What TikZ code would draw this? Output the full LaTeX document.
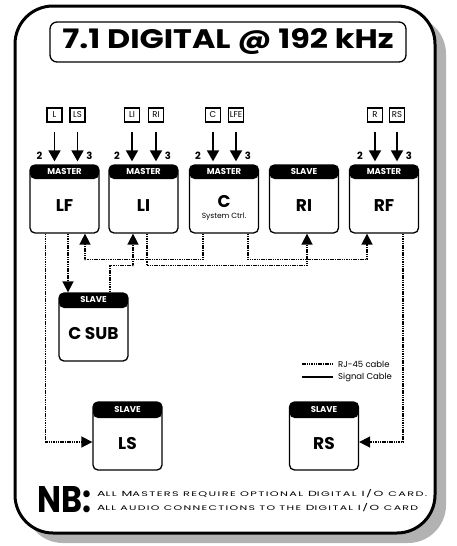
\documentclass[tikz,border=0pt]{standalone}
\usepackage{fontspec}
\setmainfont{Poppins}
\usetikzlibrary{arrows.meta,calc}
\tikzset{
  unitbox/.style={draw, line width=1.3pt, rounded corners=5pt, minimum width=69pt,
    minimum height=68pt, inner sep=0pt,
    path picture={\fill (path picture bounding box.north west) rectangle
      ([yshift=-#1]path picture bounding box.north east);}},
  unitbox/.default=14pt,
  hdr/.style={text=white, font=\fontsize{8.5}{8.5}\selectfont\bfseries, inner sep=0pt},
  body/.style={font=\fontsize{17}{17}\selectfont\bfseries, inner sep=0pt},
  inlab/.style={draw, line width=1.1pt, font=\fontsize{8.5}{8.5}\selectfont, inner sep=1.3pt,
    minimum height=14pt, minimum width=15pt},
  inarr/.style={line width=1.8pt, -{Triangle[width=12pt,length=11pt]},
    shorten <=9pt, shorten >=3pt},
  num/.style={font=\fontsize{10}{10}\selectfont\bfseries, inner sep=0pt},
  rj/.style={line width=1.6pt, dash pattern=on 1.5pt off 0.8pt,
    -{Triangle[width=11pt,length=11pt]}},
  legtxt/.style={font=\fontsize{8.5}{8.5}\selectfont, inner sep=0pt, anchor=west},
}
\newcommand\mkunit[6]{% name, x, y, header, body, header height
  \node[unitbox=#6] (#1) at (#2,#3) {};
  \node[hdr] (#1h) at ([yshift=-#6/2]#1.north) {#4};
  \node[body] (#1t) at ([yshift=-#6/2+0.5pt]#1.center) {#5};
}
\newcommand\mkinputs[5]{% unit, ax, bx, labA, labB
  \node[inlab] (#1a) at (#2,115) {#4};
  \node[inlab] (#1b) at (#3,115) {#5};
  \draw[inarr] (#1a.south) -- (#1a.south |- #1.north);
  \draw[inarr] (#1b.south) -- (#1b.south |- #1.north);
  \node[num] (#1n2) at (#2-15,156) {2};
  \node[num] (#1n3) at (#3+12,156) {3};
}
\begin{document}
\begin{tikzpicture}[x=1pt,y=-1pt]
\useasboundingbox (0,0) rectangle (456,546);
% frame with shadow
\fill[gray!60, rounded corners=38pt] (25,16) rectangle (446,543);
\draw[line width=3pt, fill=white, rounded corners=38pt] (15,6) rectangle (435,533);
% title
\node[draw, line width=1.3pt, rounded corners=7pt, minimum width=356pt, minimum height=40pt, inner sep=0pt]
  (title) at (228,42) {\resizebox{331pt}{20pt}{\bfseries 7.1 DIGITAL @ 192 kHz}};
% units
\mkunit{LF}{64.5}{199}{MASTER}{LF}{14pt}
\mkunit{LI}{143.5}{199}{MASTER}{LI}{14pt}
\node[unitbox=14pt] (C) at (224,199) {};
\node[hdr] (Ch) at ([yshift=-7pt]C.north) {MASTER};
\node[body] (Ct) at (224,202) {C};
\node[font=\fontsize{7.5}{7.5}\selectfont, inner sep=0pt] (Cs) at (224,217) {System Ctrl.};
\mkunit{RI}{304}{199}{SLAVE}{RI}{14pt}
\mkunit{RF}{384}{199}{MASTER}{RF}{14pt}
\mkunit{CSUB}{93.5}{327}{SLAVE}{C SUB}{15pt}
\mkunit{LS}{127.5}{436}{SLAVE}{LS}{16pt}
\mkunit{RS}{324}{436}{SLAVE}{RS}{16pt}
% inputs
\mkinputs{LF}{54.5}{77.5}{L}{LS}
\mkinputs{LI}{132}{156}{LI}{RI}
\mkinputs{C}{213}{236}{C}{LFE}
\mkinputs{RF}{375}{397}{R}{RS}
% RJ-45 connections
\coordinate (lfa) at ($(LF.south west)+(16,0)$);
\draw[rj] (lfa) |- ([yshift=-6pt]LS.west);
\coordinate (lfb) at ($(LF.south)+(3.5,0)$);
\draw[rj] (lfb) -- (lfb |- CSUB.north);
\coordinate (ca) at ($(C.south)+(-21,0)$);
\coordinate (lfc) at ($(LF.south)+(20.5,0)$);
\draw[rj] (ca) -- ++(0,26) -| (lfc);
\coordinate (cs) at ($(CSUB.north)+(16.5,0)$);
\coordinate (lib) at ($(LI.south)+(-10.5,0)$);
\draw[rj] (cs) |- ([yshift=-32pt]lib) -- (lib);
\coordinate (lis) at ($(LI.south)+(3.5,0)$);
\coordinate (rib) at ($(RI.south)+(3,0)$);
\draw[rj] (lis) -- ++(0,32) -| (rib);
\coordinate (cb) at ($(C.south)+(24,0)$);
\coordinate (rfb) at ($(RF.south)+(-17,0)$);
\draw[rj] (cb) -- ++(0,26) -| (rfb);
\coordinate (rfs) at ($(RF.south)+(19,0)$);
\draw[rj] (rfs) |- ([yshift=-6pt]RS.east);
% legend
\coordinate (l1a) at (302,364); \coordinate (l1b) at (333,364);
\coordinate (l2a) at (302,377); \coordinate (l2b) at (333,377);
\draw[line width=1.6pt, dash pattern=on 1.5pt off 0.8pt] (l1a) -- (l1b);
\draw[line width=1.2pt] (l2a) -- (l2b);
\node[legtxt] (leg1) at (338,364) {RJ-45 cable};
\node[legtxt] (leg2) at (338,377) {Signal Cable};
% NB
\node[inner sep=0pt, anchor=west] (nb) at (37,500) {\resizebox{54pt}{26pt}{\bfseries NB:}};
\node[inner sep=0pt, anchor=base west] (nb1) at (97,496.5)
  {\resizebox{330pt}{7pt}{\addfontfeatures{LetterSpace=12}A{\small LL} M{\small ASTERS REQUIRE OPTIONAL} D{\small IGITAL} I/O {\small CARD.}}};
\node[inner sep=0pt, anchor=base west] (nb2) at (97,510.5)
  {\resizebox{321pt}{7pt}{\addfontfeatures{LetterSpace=12}A{\small LL AUDIO CONNECTIONS TO THE} D{\small IGITAL} I/O {\small CARD}}};
\end{tikzpicture}
\end{document}
